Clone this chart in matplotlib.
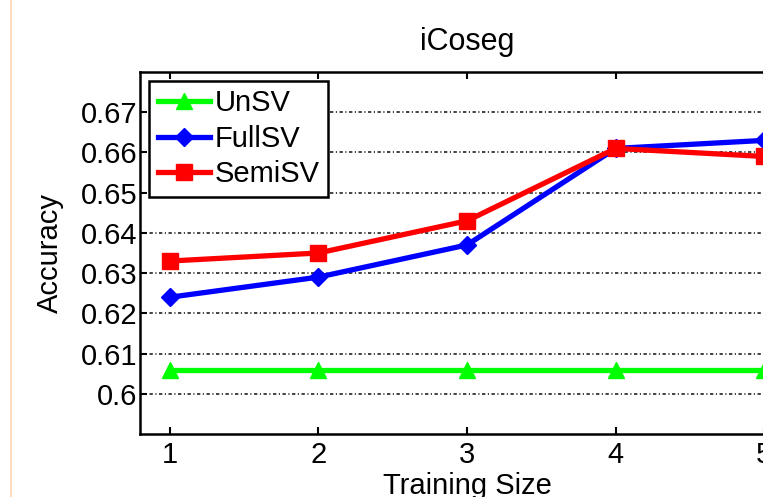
import numpy as np
import matplotlib.pyplot as plt
from matplotlib.lines import Line2D

# ================= 資料 =================
train_size = [1, 2, 3, 4, 5]
unsv = [0.606, 0.606, 0.606, 0.606, 0.606]
fullsv = [0.624, 0.629, 0.637, 0.661, 0.663]
semisv = [0.633, 0.635, 0.643, 0.661, 0.659]
yticks = [0.60, 0.61, 0.62, 0.63, 0.64, 0.65, 0.66, 0.67]
ytick_labels = ["0.6", "0.61", "0.62", "0.63", "0.64", "0.65", "0.66", "0.67"]

plt.rcParams['font.family'] = ['Liberation Sans', 'DejaVu Sans']

fig = plt.figure(figsize=(7.63, 4.97), dpi=100)
# axes run past the right edge (the original was cropped)
ax = fig.add_axes([140 / 763, 1 - 434 / 497, 654 / 763, 362 / 497])

ax.plot(train_size, unsv, color='#00ff00', lw=3.8, marker='^', ms=12, label='UnSV', zorder=3)
ax.plot(train_size, fullsv, color='#0000ff', lw=3.8, marker='D', ms=9, label='FullSV', zorder=3)
ax.plot(train_size, semisv, color='#ff0000', lw=3.8, marker='s', ms=11, label='SemiSV', zorder=3)

ax.set_xlim(0.8, 5.2)
ax.set_ylim(0.59, 0.68)
ax.set_xticks(train_size)
ax.set_yticks(yticks)
ax.set_yticklabels(ytick_labels)

ax.yaxis.grid(True, color='#222222', lw=1.2, linestyle=(0, (2, 1.5, 0.7, 1.5)))
ax.set_axisbelow(True)

ax.tick_params(direction='in', top=True, right=True, length=5, width=1.5,
               labelsize=21, colors='black')
ax.tick_params(axis='x', pad=5)
ax.tick_params(axis='y', pad=2)
for sp in ax.spines.values():
    sp.set_linewidth(1.8)

ax.set_title("iCoseg", fontsize=22, pad=16)
ax.set_xlabel("Training Size", fontsize=21, labelpad=2)
ax.set_ylabel("Accuracy", fontsize=21, labelpad=12)

leg = ax.legend(loc='upper left', fontsize=21, fancybox=False, framealpha=1,
                edgecolor='black', borderaxespad=0.3, handlelength=1.8,
                handletextpad=0.15, labelspacing=0.25, borderpad=0.3)
leg.get_frame().set_linewidth(1.8)

# thin peach border line at the left of the cropped figure
fig.add_artist(Line2D([11 / 763, 11 / 763], [0, 1], color='#ffdcc0', lw=1.5))

fig.savefig("out.png", dpi=100)
